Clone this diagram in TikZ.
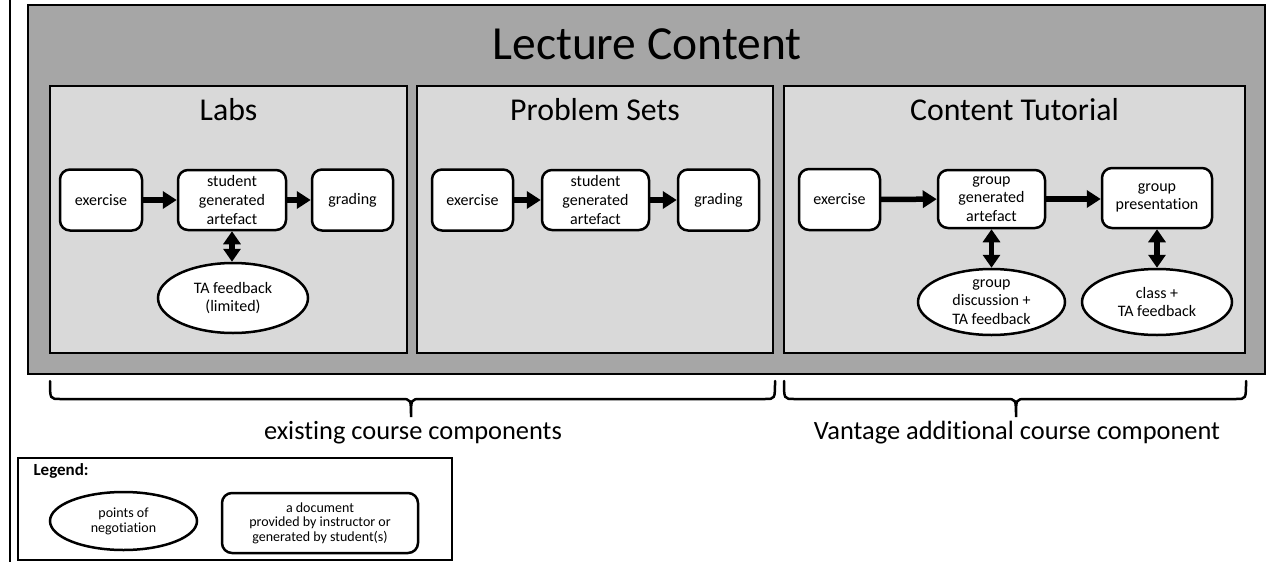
\documentclass[tikz,border=0pt]{standalone}
\usepackage{fontspec}
\setmainfont[Ligatures={NoCommon}]{Carlito}
\usetikzlibrary{shapes.geometric,arrows.meta}
\definecolor{outergray}{HTML}{A6A6A6}
\definecolor{innergray}{HTML}{D9D9D9}
\tikzset{
  frame/.style={draw=black, line width=2.5pt},
  doc/.style={draw=black, fill=white, line width=2.5pt, rounded corners=10pt, align=center, inner sep=0pt,
    font=\fontsize{16}{18.7}\selectfont},
  nego/.style={ellipse, draw=black, fill=white, line width=2.5pt, align=center, inner sep=0pt,
    font=\fontsize{16}{18.7}\selectfont},
  flow/.style={line width=5.5pt, -{Triangle[length=14pt,width=17pt]}, shorten <=-0.5pt},
  dflow/.style={line width=5.5pt, {Triangle[length=13pt,width=17pt]}-{Triangle[length=13pt,width=17pt]}},
  brace/.style={line width=2.5pt, line cap=round},
  ttl/.style={font=\fontsize{31.8}{36}\selectfont},
  bottomtxt/.style={font=\fontsize{26.4}{30}\selectfont},
}
\begin{document}
\begin{tikzpicture}[x=1pt,y=-1pt]
\useasboundingbox (0,0) rectangle (1285,562);
\fill[white] (0,0) rectangle (1285,562);
% left vertical line
\coordinate (vt) at (10,0);
\coordinate (vb) at (10,562);
\draw[line width=2.5pt] (vt) -- (vb);
% outer box
\draw[frame, fill=outergray] (28,5) rectangle (1265,374);
\node[font=\fontsize{47.5}{52}\selectfont] (title) at (647,44) {Lecture Content};
% inner boxes
\draw[frame, fill=innergray] (50,86) rectangle (407,353);
\draw[frame, fill=innergray] (417,86) rectangle (773,353);
\draw[frame, fill=innergray] (784,86) rectangle (1245,353);
\node[ttl] (labs) at (228.5,110) {Labs};
\node[ttl] (ps) at (595,110) {Problem Sets};
\node[ttl] (ct) at (1014.5,110) {Content Tutorial};
% Labs
\node[doc, minimum width=82pt, minimum height=61pt] (le) at (101,200) {exercise};
\node[doc, minimum width=108pt, minimum height=60pt] (la) at (232,200) {student\\generated\\artefact};
\node[doc, minimum width=81pt, minimum height=61pt] (lg) at (352.5,200) {grading};
\node[nego, minimum width=150pt, minimum height=70pt] (lt) at (233,298) {TA feedback\\(limited)};
\draw[flow] (le) -- (la);
\draw[flow] (la) -- (lg);
\draw[dflow] (la.south) -- (la.south |- lt.north);
% Problem sets
\node[doc, minimum width=81pt, minimum height=61pt] (pe) at (472.5,200) {exercise};
\node[doc, minimum width=107pt, minimum height=60pt] (pa) at (595.5,200) {student\\generated\\artefact};
\node[doc, minimum width=81pt, minimum height=61pt] (pg) at (718.5,200) {grading};
\draw[flow] (pe) -- (pa);
\draw[flow] (pa) -- (pg);
% Content tutorial
\node[doc, minimum width=81pt, minimum height=61pt] (ce) at (839.5,199.5) {exercise};
\node[doc, minimum width=107pt, minimum height=58pt] (ca) at (991.5,199) {group\\generated\\artefact};
\node[doc, minimum width=110pt, minimum height=60pt] (cp) at (1157,198) {group\\presentation};
\node[nego, minimum width=147pt, minimum height=66pt] (cd) at (991.5,302) {group\\discussion +\\TA feedback};
\node[nego, minimum width=150pt, minimum height=66pt] (cf) at (1157,302) {class +\\TA feedback};
\draw[flow] (ce) -- (ca);
\draw[flow] (ca.east) -- (cp.west |- ca.east);
\draw[dflow] (ca.south) -- (ca.south |- cd.north);
\draw[dflow] (cp.south) -- (cp.south |- cf.north);
% braces
\draw[brace] (50,381) .. controls (50,399) .. (60,399) -- (401,399) .. controls (411,399) .. (411,417)
  .. controls (411,399) .. (421,399) -- (765,399) .. controls (775,399) .. (775,381);
\draw[brace] (784,381) .. controls (784,399) .. (794,399) -- (1006,399) .. controls (1016,399) .. (1016,417)
  .. controls (1016,399) .. (1026,399) -- (1236,399) .. controls (1246,399) .. (1246,381);
\node[bottomtxt] (ex) at (413,433) {existing course components};
\node[bottomtxt] (va) at (1017,433) {Vantage additional course component};
% legend
\draw[line width=2.5pt, fill=white] (18,458) rectangle (452,560);
\node[anchor=west, font=\bfseries\fontsize{17}{20}\selectfont] (lgd) at (30,471) {Legend:};
\node[nego, minimum width=147pt, minimum height=58pt, font=\fontsize{14}{15}\selectfont] (ln) at (123.5,521) {points of\\negotiation};
\node[doc, minimum width=196pt, minimum height=60pt, font=\fontsize{14}{14.5}\selectfont] (ld) at (320,523) {a document\\provided by instructor or\\generated by student(s)};
\end{tikzpicture}
\end{document}
